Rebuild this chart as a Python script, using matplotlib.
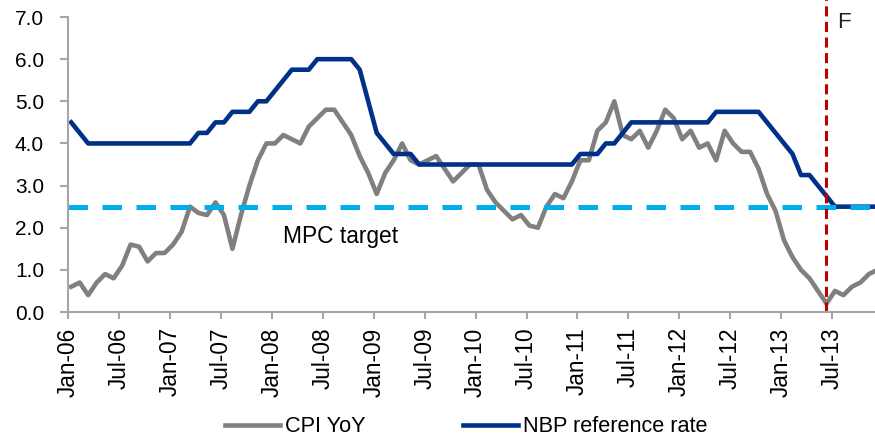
import numpy as np
import matplotlib.pyplot as plt

plt.rcParams['font.family'] = ['Liberation Sans', 'DejaVu Sans']

# monthly data, Jan-06 .. Dec-13
cpi = [0.6, 0.7, 0.4, 0.7, 0.9, 0.8, 1.1, 1.6, 1.55, 1.2, 1.4, 1.4,
       1.6, 1.9, 2.5, 2.35, 2.3, 2.6, 2.3, 1.5, 2.3, 3.0, 3.6, 4.0,
       4.0, 4.2, 4.1, 4.0, 4.4, 4.6, 4.8, 4.8, 4.5, 4.2, 3.7, 3.3,
       2.8, 3.3, 3.6, 4.0, 3.6, 3.5, 3.6, 3.7, 3.4, 3.1, 3.3, 3.5,
       3.5, 2.9, 2.6, 2.4, 2.2, 2.3, 2.05, 2.0, 2.5, 2.8, 2.7, 3.1,
       3.6, 3.6, 4.3, 4.5, 5.0, 4.2, 4.1, 4.3, 3.9, 4.3, 4.8, 4.6,
       4.1, 4.3, 3.9, 4.0, 3.6, 4.3, 4.0, 3.8, 3.8, 3.4, 2.8, 2.4,
       1.7, 1.3, 1.0, 0.8, 0.5, 0.2, 0.5, 0.4, 0.6, 0.7, 0.9, 1.0]
nbp = [4.5, 4.25, 4.0, 4.0, 4.0, 4.0, 4.0, 4.0, 4.0, 4.0, 4.0, 4.0,
       4.0, 4.0, 4.0, 4.25, 4.25, 4.5, 4.5, 4.75, 4.75, 4.75, 5.0, 5.0,
       5.25, 5.5, 5.75, 5.75, 5.75, 6.0, 6.0, 6.0, 6.0, 6.0, 5.75, 5.0,
       4.25, 4.0, 3.75, 3.75, 3.75, 3.5, 3.5, 3.5, 3.5, 3.5, 3.5, 3.5,
       3.5, 3.5, 3.5, 3.5, 3.5, 3.5, 3.5, 3.5, 3.5, 3.5, 3.5, 3.5,
       3.75, 3.75, 3.75, 4.0, 4.0, 4.25, 4.5, 4.5, 4.5, 4.5, 4.5, 4.5,
       4.5, 4.5, 4.5, 4.5, 4.75, 4.75, 4.75, 4.75, 4.75, 4.75, 4.5, 4.25,
       4.0, 3.75, 3.25, 3.25, 3.0, 2.75, 2.5, 2.5, 2.5, 2.5, 2.5, 2.5]
mpc_target = 2.5
forecast_start = 89  # Jun-13
tick_labels = ['Jan-06', 'Jul-06', 'Jan-07', 'Jul-07', 'Jan-08', 'Jul-08',
               'Jan-09', 'Jul-09', 'Jan-10', 'Jul-10', 'Jan-11', 'Jul-11',
               'Jan-12', 'Jul-12', 'Jan-13', 'Jul-13']

x = np.arange(len(cpi))
axis_grey = '#A6A6A6'

fig = plt.figure(figsize=(8.75, 4.42), dpi=100)
ax = fig.add_axes([0.0774, 0.2941, 0.9226, 0.6674])

ax.plot(x, cpi, color='#808080', lw=3.3, label='CPI YoY', solid_joinstyle='round')
ax.plot(x, nbp, color='#003087', lw=3.3, label='NBP reference rate', solid_joinstyle='round')
ax.axhline(mpc_target, color='#00AEEF', lw=3.6, dashes=(3.9, 2.9))
ax.axvline(forecast_start, ymin=0, ymax=1.06, color='#C00000', lw=2.2,
           dashes=(3.3, 1.8), clip_on=False)

ax.text(25, 1.78, 'MPC target', fontsize=16.4, va='center', ha='left')
ax.text(90.3, 7.12, 'F', fontsize=16, va='top', ha='left', color='#222222')

ax.set_xlim(-0.41, 94.72)
ax.set_ylim(0, 7)
ax.set_yticks(np.arange(0, 7.5, 1.0))
ax.set_yticklabels([f'{v:.1f}' for v in np.arange(0, 7.5, 1.0)], fontsize=15)
ax.set_xticks(np.arange(0, 91, 6) - 0.34)
ax.set_xticklabels(tick_labels, rotation=90, fontsize=16.3)

for s in ['top', 'right']:
    ax.spines[s].set_visible(False)
for s in ['left', 'bottom']:
    ax.spines[s].set_color(axis_grey)
    ax.spines[s].set_linewidth(1.5)
ax.tick_params(axis='y', direction='out', length=6, width=1.5, color=axis_grey, pad=11)
ax.tick_params(axis='x', direction='out', length=5, width=1.5, color=axis_grey, pad=6)

fig.legend(loc='center', bbox_to_anchor=(0.533, 0.034), ncol=2, frameon=False,
           fontsize=15.6, handlelength=2.54, handletextpad=0.22, columnspacing=4.5)

fig.savefig('out.png', dpi=100)
